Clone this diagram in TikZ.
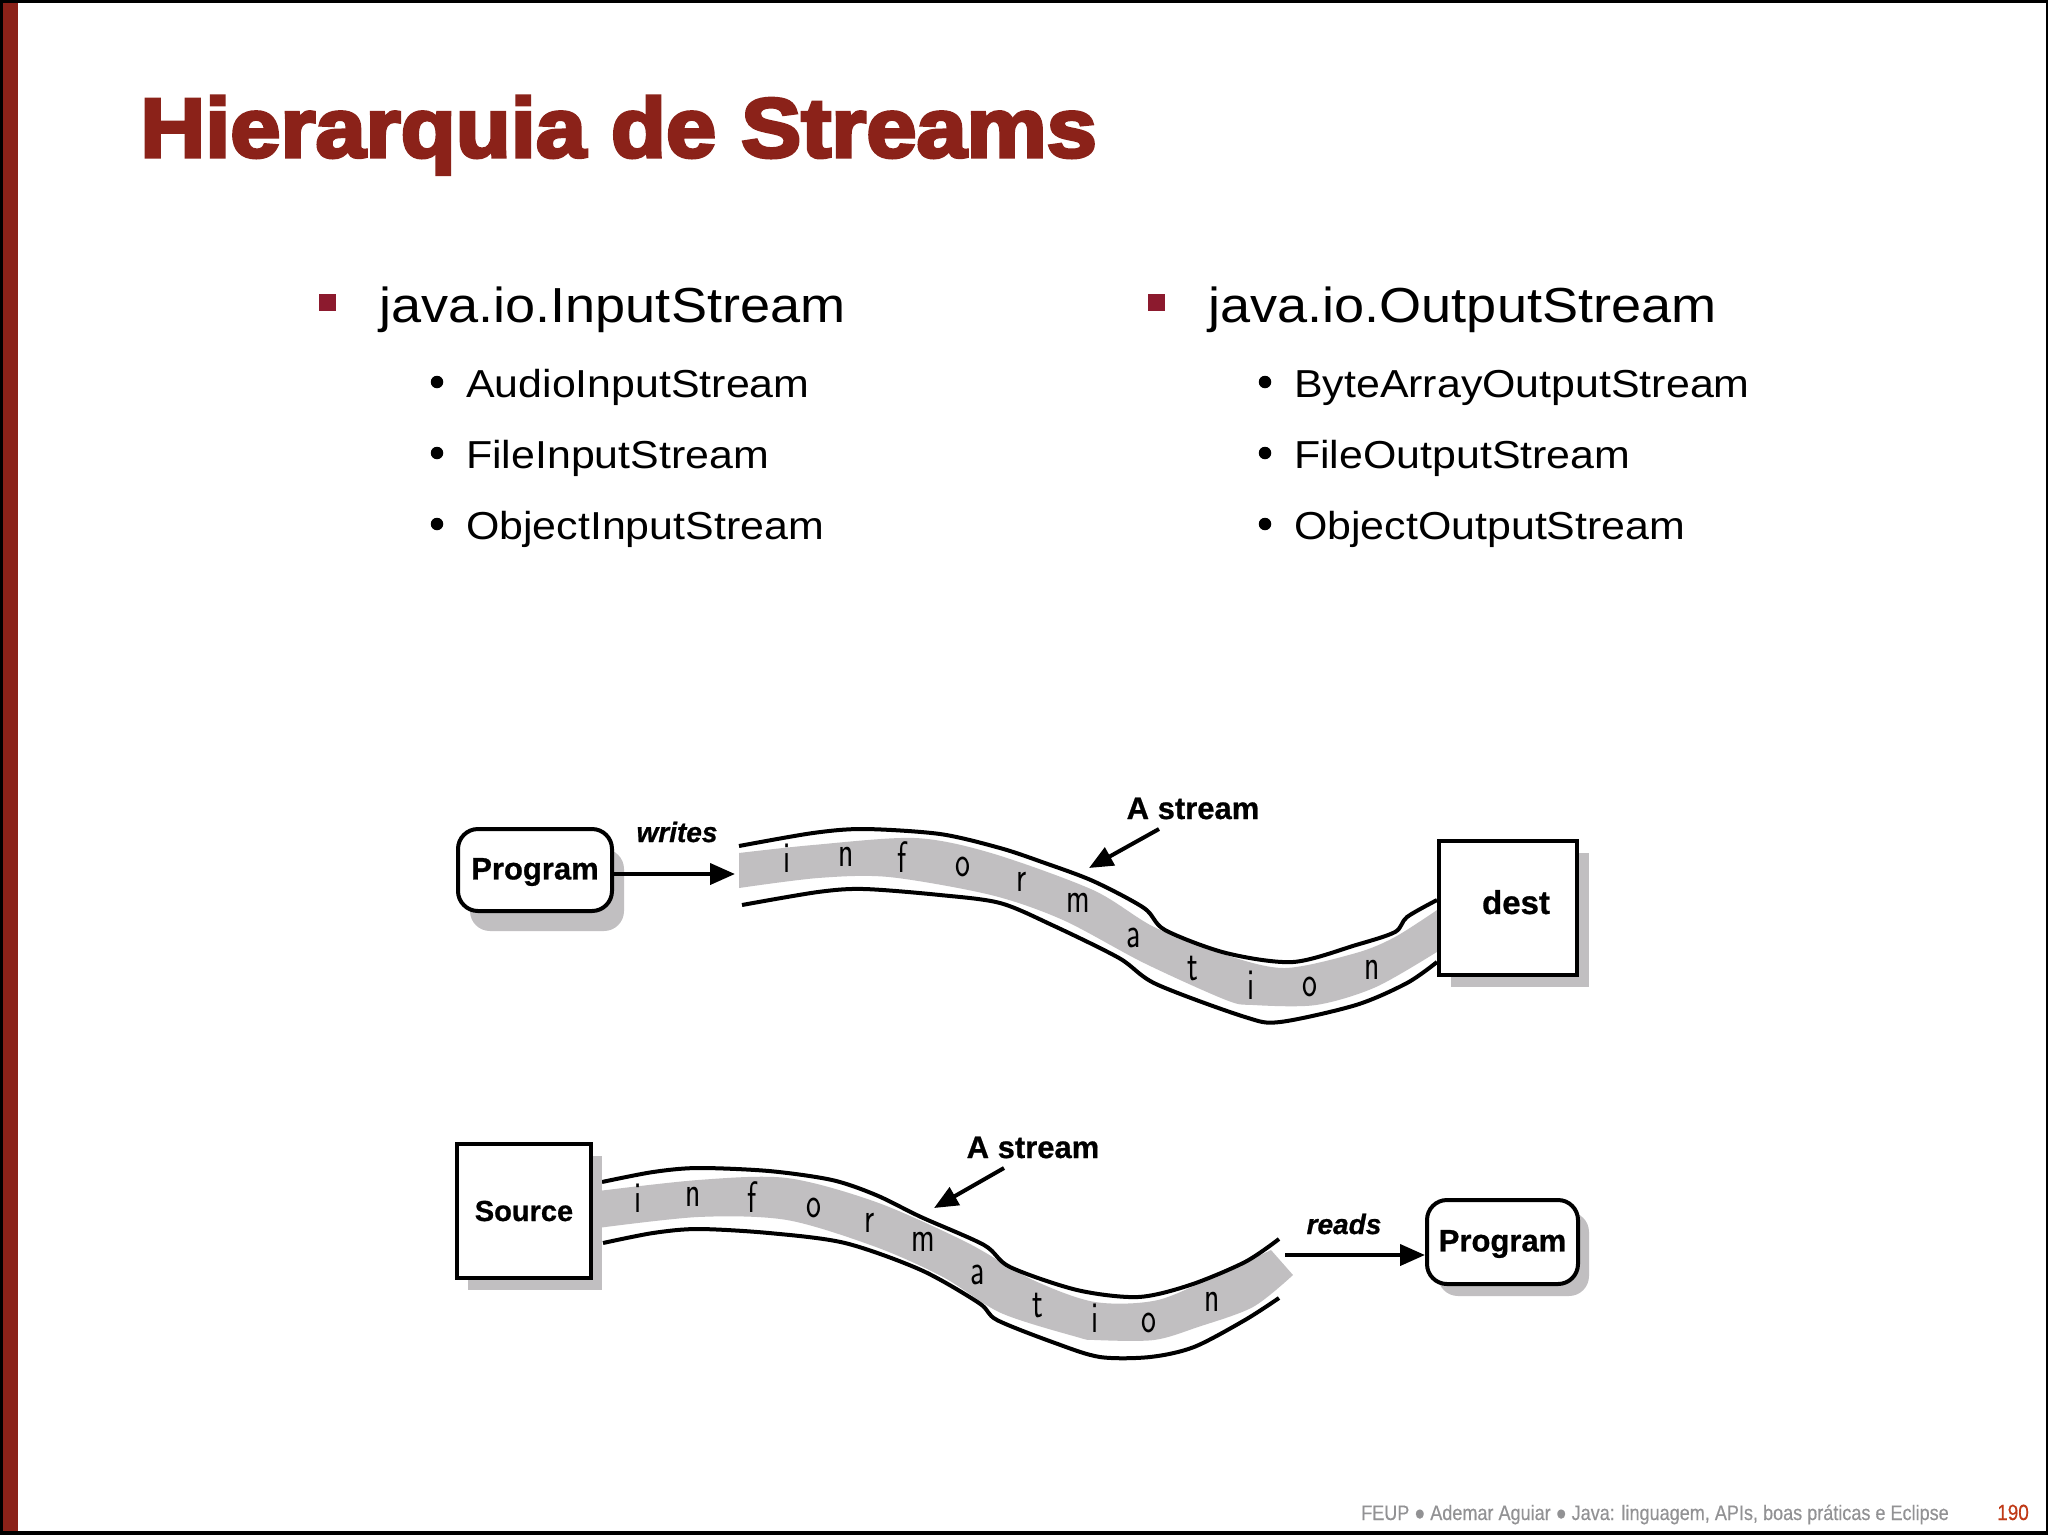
\documentclass[tikz,border=0pt]{standalone}
\usepackage{fontspec}
\usetikzlibrary{arrows.meta,shadows}
\setmainfont{Liberation Sans}
\newfontfamily\titlefont[FakeBold=4,FakeStretch=1.073]{Liberation Sans Bold}
\newfontfamily\bodyfont[FakeStretch=1.1]{Liberation Sans}
\newfontfamily\footfont[FakeBold=0.4,FakeStretch=0.86]{Liberation Sans}
\newfontfamily\boxfont[FakeBold=0.8]{Liberation Sans Bold}
\newfontfamily\bandfont[FakeStretch=0.72]{Latin Modern Sans}
\definecolor{barred}{HTML}{8B2219}
\definecolor{bulletred}{HTML}{8C1A2E}
\definecolor{bandgray}{HTML}{C1BFC1}
\definecolor{footgray}{HTML}{929294}
\definecolor{pagered}{HTML}{C03A17}
\tikzset{
	mainitem/.style={anchor=base west, inner sep=0pt, font=\bodyfont\fontsize{49.2}{49.2}\selectfont},
	subitem/.style={anchor=base west, inner sep=0pt, font=\bodyfont\fontsize{39}{39}\selectfont},
	squarebullet/.style={fill=bulletred, inner sep=0pt, minimum size=17pt},
	dotbullet/.style={circle, fill=black, inner sep=0pt, minimum size=12.5pt},
	roundbox/.style={draw, fill=white, line width=4pt, rounded corners=20pt, inner sep=0pt, text depth=2.5pt, font=\boxfont\fontsize{31}{31}\selectfont},
	squarebox/.style={draw, fill=white, line width=4pt, inner sep=0pt, font=\boxfont\fontsize{33}{33}\selectfont},
	boxlabel/.style={inner sep=0pt, anchor=base, font=\boxfont\fontsize{31}{31}\selectfont},
	verblabel/.style={inner sep=0pt, anchor=base, font=\boxfont\itshape\fontsize{28}{28}\selectfont},
	bandletter/.style={inner sep=0pt, font=\bandfont\fontsize{44}{44}\selectfont},
	bandedge/.style={line width=4pt, line join=round},
	flowarrow/.style={line width=4pt, -{Triangle[length=25pt,width=21pt]}},
	pointer/.style={line width=4pt, -{Triangle[length=24pt,width=20pt]}},
}
\begin{document}
\begin{tikzpicture}[x=1pt, y=-1pt]
	\useasboundingbox (0,0) rectangle (2048,1535);
	% Slide frame:
	\fill[white] (0,0) rectangle (2048,1535);
	\fill[barred] (0,0) rectangle (18,1535);
	\fill[black] (0,0) rectangle (2048,3);
	\fill[black] (0,1531) rectangle (2048,1535);
	\fill[black] (0,0) rectangle (3,1535);
	\fill[black] (2046,0) rectangle (2048,1535);
	% Title and lists:
	\node[anchor=base west, inner sep=0pt, text=barred, font=\titlefont\fontsize{84}{84}\selectfont] (title) at (140,157) {Hierarquia de Streams};
	\node[squarebullet] (sqleft) at (327.5,302.5) {};
	\node[mainitem] (inroot) at (379,322) {java.io.InputStream};
	\node[dotbullet] (dota) at (437,382) {};
	\node[subitem] (ina) at (466,397) {AudioInputStream};
	\node[dotbullet] (dotb) at (437,453) {};
	\node[subitem] (inb) at (466,468) {FileInputStream};
	\node[dotbullet] (dotc) at (437,524) {};
	\node[subitem] (inc) at (466,539) {ObjectInputStream};
	\node[squarebullet] (sqright) at (1156,302.5) {};
	\node[mainitem] (outroot) at (1208,322) {java.io.OutputStream};
	\node[dotbullet] (dotd) at (1265,382) {};
	\node[subitem] (outa) at (1294,397) {ByteArrayOutputStream};
	\node[dotbullet] (dote) at (1265,453) {};
	\node[subitem] (outb) at (1294,468) {FileOutputStream};
	\node[dotbullet] (dotf) at (1265,524) {};
	\node[subitem] (outc) at (1294,539) {ObjectOutputStream};
	% Upper stream:
	\fill[bandgray] plot[smooth] coordinates {(739,853) (813,845) (915,838) (991,853) (1093,890) (1154,927) (1226,955) (1285,968) (1356,953) (1395,937) (1440,908)}
		-- plot[smooth] coordinates {(1440,950) (1376,987) (1316,1005) (1253,1005) (1226,1000) (1144,963) (1063,920) (991,895) (889,877) (818,878) (739,888)} -- cycle;
	\draw[bandedge] plot[smooth] coordinates {(739,846) (813,833) (864,829) (940,834) (1000,848) (1042,862) (1093,881) (1144,908) (1165,930) (1226,953) (1293,962) (1356,945) (1395,932) (1407,917) (1437,900)};
	\draw[bandedge] plot[smooth] coordinates {(742,905) (818,892) (864,889) (940,895) (1000,903) (1052,925) (1119,958) (1156,984) (1245,1017) (1280,1022) (1356,1005) (1407,983) (1437,962)};
	\node[bandletter] (upi) at (787,858) {i};
	\node[bandletter] (upn) at (846,857) {n};
	\node[bandletter] (upf) at (902,857) {f};
	\node[bandletter] (upo) at (963,867) {o};
	\node[bandletter] (upr) at (1022,882) {r};
	\node[bandletter] (upm) at (1078,903) {m};
	\node[bandletter] (upa) at (1134,938) {a};
	\node[bandletter] (upt) at (1193,968) {t};
	\node[bandletter] (upii) at (1251,985) {i};
	\node[bandletter] (upoo) at (1310,987) {o};
	\node[bandletter] (upnn) at (1372,970) {n};
	\node[roundbox, minimum width=154pt, minimum height=82pt, general shadow={shadow xshift=12pt, shadow yshift=-20pt, fill=bandgray}] (progout) at (535,870) {Program};
	\node[squarebox, text depth=12pt, minimum width=138pt, minimum height=134pt, general shadow={shadow xshift=12pt, shadow yshift=-12pt, fill=bandgray}] (dest) at (1508,908) {\hspace{16pt}dest};
	\coordinate (writetip) at (735,874);
	\draw[flowarrow] (progout.east |- writetip) -- (writetip);
	\node[verblabel] (writes) at (677,842) {writes};
	\node[boxlabel] (upstream) at (1193,819) {A stream};
	\coordinate (uptail) at (1159,829);
	\coordinate (uphead) at (1089,868);
	\draw[pointer] (uptail) -- (uphead);
	% Lower stream:
	\fill[bandgray] plot[smooth] coordinates {(590,1192) (698,1180) (787,1178) (876,1202) (966,1242) (1033,1280) (1095,1302) (1158,1300) (1221,1273) (1271,1250)}
		-- (1293,1275)
		-- plot[smooth] coordinates {(1293,1275) (1253,1307) (1198,1327) (1154,1340) (1095,1340) (1077,1337) (1001,1313) (943,1277) (876,1247) (787,1220) (698,1217) (590,1229)} -- cycle;
	\draw[bandedge] plot[smooth] coordinates {(602,1182) (653,1172) (698,1168) (769,1171) (832,1180) (876,1195) (921,1217) (984,1245) (1010,1267) (1077,1290) (1138,1297) (1190,1285) (1245,1262) (1279,1239)};
	\draw[bandedge] plot[smooth] coordinates {(603,1243) (653,1233) (698,1229) (769,1233) (845,1243) (921,1270) (979,1303) (997,1320) (1055,1343) (1100,1357) (1150,1357) (1194,1347) (1245,1320) (1279,1298)};
	\node[bandletter] (lowi) at (638,1198) {i};
	\node[bandletter] (lown) at (693,1197) {n};
	\node[bandletter] (lowf) at (752,1197) {f};
	\node[bandletter] (lowo) at (814,1208) {o};
	\node[bandletter] (lowr) at (870,1223) {r};
	\node[bandletter] (lowm) at (923,1242) {m};
	\node[bandletter] (lowa) at (978,1275) {a};
	\node[bandletter] (lowt) at (1038,1305) {t};
	\node[bandletter] (lowii) at (1095,1318) {i};
	\node[bandletter] (lowoo) at (1149,1323) {o};
	\node[bandletter] (lownn) at (1212,1302) {n};
	\node[squarebox, font=\boxfont\fontsize{29}{29}\selectfont, minimum width=134pt, minimum height=134pt, general shadow={shadow xshift=11pt, shadow yshift=-12pt, fill=bandgray}] (source) at (524,1211) {Source};
	\node[roundbox, minimum width=151pt, minimum height=84pt, general shadow={shadow xshift=11pt, shadow yshift=-12pt, fill=bandgray}] (progin) at (1502.5,1242) {Program};
	\coordinate (readtail) at (1285,1255);
	\draw[flowarrow] (readtail) -- (progin.west |- readtail);
	\node[verblabel] (reads) at (1344,1234) {reads};
	\node[boxlabel] (lowstream) at (1033,1158) {A stream};
	\coordinate (lowtail) at (1004,1168);
	\coordinate (lowhead) at (934,1208);
	\draw[pointer] (lowtail) -- (lowhead);
	% Footer:
	\node[anchor=base east, inner sep=0pt, text=footgray, font=\footfont\fontsize{21}{21}\selectfont] (footer) at (1949,1520) {FEUP ● Ademar Aguiar ● Java: linguagem, APIs, boas práticas e Eclipse};
	\node[anchor=base east, inner sep=0pt, text=pagered, font=\footfont\fontsize{22}{22}\selectfont] (pageno) at (2029,1520) {190};
\end{tikzpicture}
\end{document}
